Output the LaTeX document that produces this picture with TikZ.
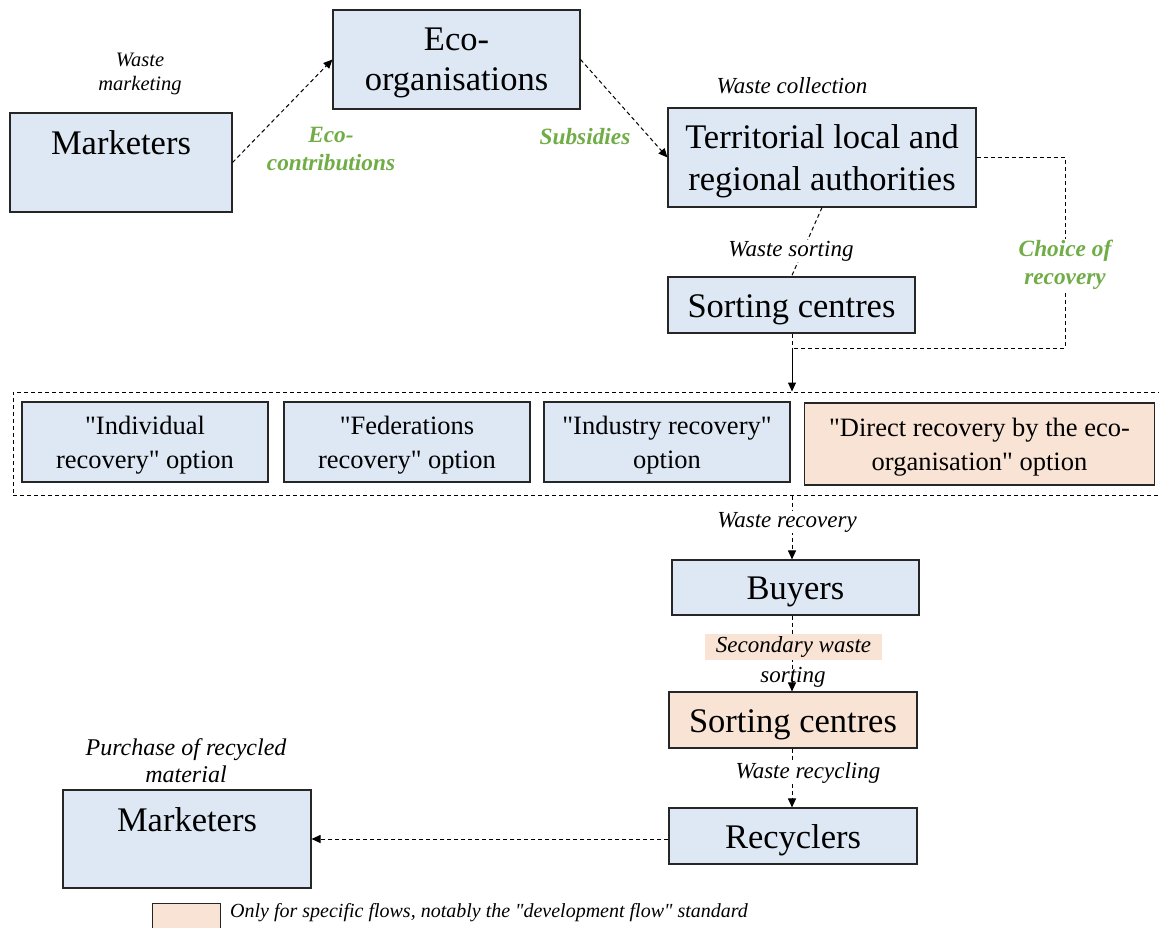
\documentclass[tikz,border=0pt]{standalone}
\usepackage{fontspec}
\setmainfont{Liberation Serif}[Ligatures=TeXOff]
\usetikzlibrary{arrows.meta}
\definecolor{boxblue}{HTML}{DEE8F4}
\definecolor{boxorange}{HTML}{F8E3D5}
\definecolor{labgreen}{HTML}{70AD47}
\tikzset{
  box/.style={draw=black!85, line width=1.1pt, fill=boxblue, align=center, inner sep=2pt},
  obox/.style={box, fill=boxorange},
  bigtxt/.style={font=\fontsize{34.5}{42}\selectfont},
  single/.style={text height=32pt},
  multi/.style={text depth=-1pt},
  opttxt/.style={font=\fontsize{26.5}{34}\selectfont, multi},
  flow/.style={font=\fontsize{23}{27}\selectfont\itshape, align=center, inner sep=1pt},
  glab/.style={font=\fontsize{23.3}{28}\selectfont\bfseries\itshape, text=labgreen, align=center, inner sep=1pt},
  dline/.style={line width=1pt, dash pattern=on 4pt off 3pt},
  darrow/.style={dline, -{Triangle[width=8pt,length=9pt]}},
  sarrow/.style={line width=1pt, -{Triangle[width=8pt,length=9pt]}},
}
\begin{document}
\begin{tikzpicture}[x=1pt,y=-1pt]
\useasboundingbox (0,0) rectangle (1159,928);
% boxes
\node[box,bigtxt,single,minimum width=222pt,minimum height=99pt,text depth=48pt] (mk1) at (121,162.5) {Marketers};
\node[box,bigtxt,multi,minimum width=247pt,minimum height=99pt,font=\fontsize{34.5}{40}\selectfont] (eco) at (456.5,59.5) {Eco-\\organisations};
\node[box,bigtxt,multi,minimum width=308pt,minimum height=99pt] (terr) at (822,157.5) {Territorial local and\\regional authorities};
\node[box,bigtxt,single,minimum width=247pt,minimum height=56pt] (sc1) at (791.5,305) {Sorting centres};
\node[draw, dline, minimum width=1160pt, minimum height=103pt, inner sep=0pt] (grp) at (593,443.5) {};
\node[box,opttxt,minimum width=246pt,minimum height=80pt] (o1) at (145,442) {"Individual\\recovery" option};
\node[box,opttxt,minimum width=246pt,minimum height=80pt] (o2) at (407,442) {"Federations\\recovery" option};
\node[box,opttxt,minimum width=246pt,minimum height=80pt] (o3) at (667,442) {"Industry recovery"\\option};
\node[obox,opttxt,minimum width=350pt,minimum height=82pt] (o4) at (979.5,444) {"Direct recovery by the eco-\\organisation" option};
\node[box,bigtxt,single,minimum width=247pt,minimum height=55pt] (buy) at (795.5,587.5) {Buyers};
\node[obox,bigtxt,single,minimum width=248pt,minimum height=56pt] (sc2) at (793,720) {Sorting centres};
\node[box,bigtxt,single,minimum width=248pt,minimum height=56pt] (rec) at (793,836) {Recyclers};
\node[box,bigtxt,single,minimum width=248pt,minimum height=98pt,text depth=47pt] (mk2) at (187,839) {Marketers};
% connectors
\draw[darrow] (mk1.east) -- (eco.west);
\draw[darrow] (eco.east) -- (terr.west);
\draw[dline] (terr.south) -- (sc1.north);
\coordinate (j) at (792,348);
\coordinate (cr) at (1065,0);
\draw[dline] (sc1.south -| j) -- (j);
\draw[dline] (terr.east) -- (terr.east -| cr) -- (j -| cr) -- (j);
\draw[sarrow] (j) -- (j |- grp.north);
\draw[darrow] (j |- grp.south) -- (j |- buy.north);
\draw[darrow] (j |- buy.south) -- (j |- sc2.north);
\draw[darrow] (j |- sc2.south) -- (j |- rec.north);
\draw[darrow] (rec.west |- mk2.east) -- (mk2.east);
% labels
\node[flow,font=\fontsize{20.5}{24}\selectfont\itshape] (lwm) at (140,74) {Waste\\marketing};
\node[glab] (lec) at (331,149) {Eco-\\contributions};
\node[glab] (lsub) at (585,137) {Subsidies};
\node[flow] (lwc) at (792,86) {Waste collection};
\node[flow,fill=white] (lws) at (791,251) {Waste sorting};
\node[glab,fill=white] (lcr) at (1065,265) {Choice of\\recovery};
\node[flow,fill=white] (lwr) at (787,522) {Waste recovery};
\node[flow,fill=boxorange,minimum width=177pt,minimum height=26pt,inner sep=0pt] (lsw) at (793.5,647) {Secondary waste};
\node[flow] (lso) at (793,677) {sorting};
\node[flow,fill=white] (lwy) at (808,773) {Waste recycling};
\node[flow,font=\fontsize{24}{27}\selectfont\itshape] (lpr) at (186,761) {Purchase of recycled\\material};
% legend
\node[draw=black!85,line width=1pt,fill=boxorange,minimum width=68pt,minimum height=34pt,inner sep=0pt] (leg) at (186,920) {};
\node[flow,anchor=west,font=\fontsize{20}{24}\selectfont\itshape] (legt) at (229,913) {Only for specific flows, notably the "development flow" standard};
\end{tikzpicture}
\end{document}
